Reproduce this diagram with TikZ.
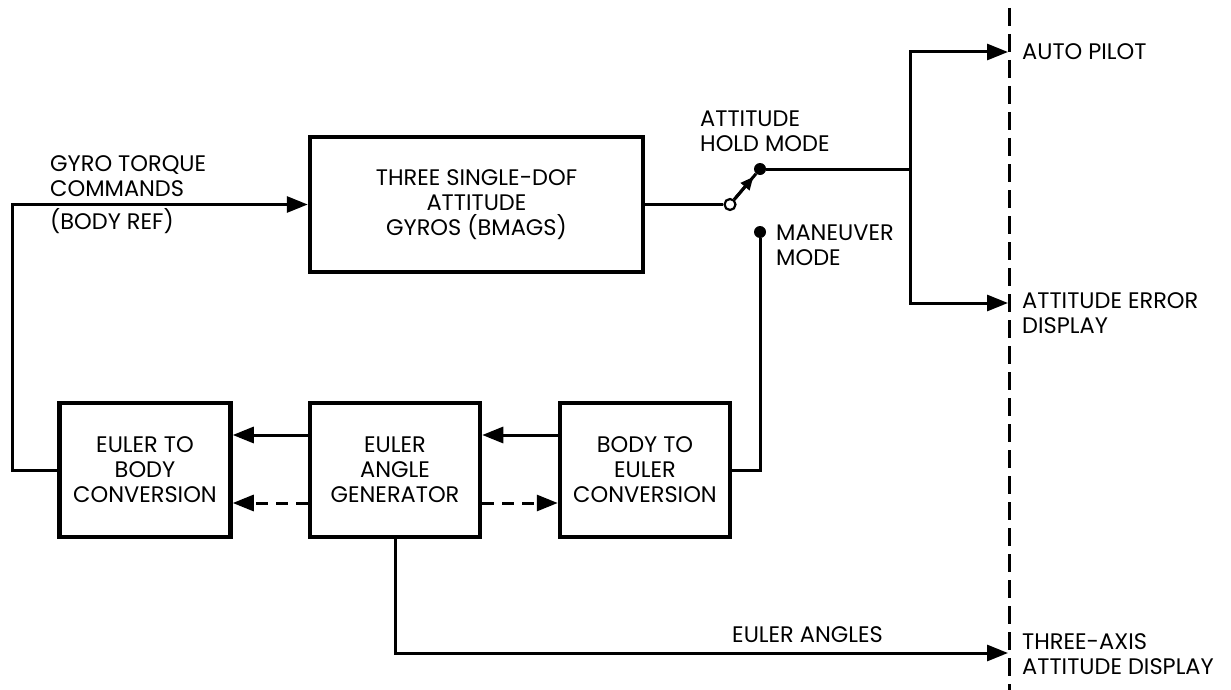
\documentclass[tikz,border=0pt]{standalone}
\usepackage{fontspec}
\setmainfont{Poppins}
\usetikzlibrary{arrows.meta,calc}
\begin{document}
\begin{tikzpicture}[x=1pt,y=-1pt,
  txt/.style={font=\fontsize{22.5}{25}\selectfont, inner sep=0pt},
  blk/.style={draw, line width=4.5pt, align=center, inner sep=0pt,
    font=\fontsize{22.5}{25}\selectfont},
  ln/.style={line width=3pt},
  arr/.style={-{Triangle[length=21pt,width=16pt]}},
  sarr/.style={-{Triangle[length=13pt,width=11pt]}},
  lbl/.style={txt, anchor=west, align=left}]
\useasboundingbox (0,0) rectangle (1231,690);

% blocks
\node[blk, minimum width=333pt, minimum height=135pt] (top) at (476.5,204.5)
  {THREE SINGLE-DOF\\ATTITUDE\\GYROS (BMAGS)};
\node[blk, minimum width=171pt, minimum height=134pt] (e2b) at (145,470)
  {EULER TO\\BODY\\CONVERSION};
\node[blk, minimum width=170pt, minimum height=134pt] (eag) at (395,470)
  {EULER\\ANGLE\\GENERATOR};
\node[blk, minimum width=170pt, minimum height=134pt] (b2e) at (645,470)
  {BODY TO\\EULER\\CONVERSION};

% switch contacts
\node[circle, draw, fill=white, line width=2.2pt, inner sep=0pt, minimum size=11pt] (swa) at (730,204.5) {};
\node[circle, fill, inner sep=0pt, minimum size=12pt] (swb) at (760,169) {};
\node[circle, fill, inner sep=0pt, minimum size=12pt] (mm) at (760,232) {};
\coordinate (jn) at (910,169);

% interface line
\coordinate (dtop) at (1009,8);
\coordinate (dbot) at (1009,690);
\draw[line width=3pt, dash pattern=on 18pt off 8pt] (dtop) -- (dbot);
\coordinate (ap) at (1008,52);
\coordinate (aed) at (1008,303);
\coordinate (ead) at (1008,653);

% connectors
\draw[ln, arr] (e2b.west) -- (12,470) |- (top.west);
\draw[ln] (top.east) -- (swa);
\draw[ln] (swa) -- (swb);
\draw[ln, sarr] (swa) -- ($(swa)!0.78!(swb)$);
\draw[ln] (swb) -- (jn);
\draw[ln, arr] (jn) |- (ap);
\draw[ln, arr] (jn) |- (aed);
\draw[ln] (mm) |- (b2e.east);
\draw[ln, arr] (eag.west |- 0,435) -- (e2b.east |- 0,435);
\draw[ln, arr] (b2e.west |- 0,435) -- (eag.east |- 0,435);
\draw[ln, arr, dash pattern=on 12pt off 8pt] (eag.west |- 0,503) -- (e2b.east |- 0,503);
\draw[ln, arr, dash pattern=on 12pt off 8pt] (eag.east |- 0,503) -- (b2e.west |- 0,503);
\draw[ln, arr] (eag.south) |- (ead);

% labels
\node[lbl] (gtc) at (50,176) {GYRO TORQUE\\COMMANDS};
\node[lbl] (bref) at (50,221) {(BODY REF)};
\node[lbl] (ahm) at (700,131) {ATTITUDE\\HOLD MODE};
\node[lbl] (mvm) at (776,245) {MANEUVER\\MODE};
\node[lbl] (ea) at (732,635) {EULER ANGLES};
\node[lbl] (apl) at (1022,52) {AUTO PILOT};
\node[lbl, anchor=north west] (ael) at (1022,292) {ATTITUDE ERROR\\DISPLAY};
\node[lbl] (tal) at (1022,654) {THREE-AXIS\\ATTITUDE DISPLAY};
\end{tikzpicture}
\end{document}
